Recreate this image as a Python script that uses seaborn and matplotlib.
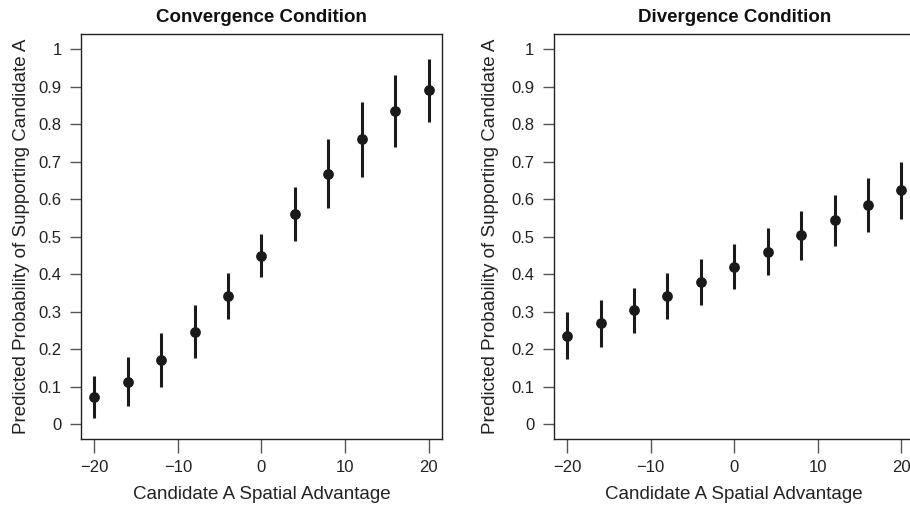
import numpy as np
import pandas as pd
import matplotlib
matplotlib.use("Agg")
import matplotlib.pyplot as plt
import seaborn as sns

advantage = [-20, -16, -12, -8, -4, 0, 4, 8, 12, 16, 20]

conv_est = [0.073, 0.113, 0.170, 0.246, 0.341, 0.449, 0.561, 0.667, 0.761, 0.834, 0.890]
conv_lo = [0.016, 0.047, 0.099, 0.176, 0.281, 0.392, 0.489, 0.575, 0.660, 0.738, 0.806]
conv_hi = [0.129, 0.179, 0.244, 0.317, 0.402, 0.507, 0.633, 0.760, 0.860, 0.930, 0.974]

div_est = [0.236, 0.269, 0.303, 0.341, 0.379, 0.419, 0.460, 0.503, 0.543, 0.584, 0.625]
div_lo = [0.173, 0.206, 0.243, 0.279, 0.317, 0.359, 0.397, 0.438, 0.474, 0.512, 0.548]
div_hi = [0.298, 0.332, 0.364, 0.402, 0.439, 0.480, 0.523, 0.567, 0.612, 0.657, 0.700]

titles = ["Convergence Condition", "Divergence Condition"]
xticks = [-20, -10, 0, 10, 20]
xticklabels = ["\u221220", "\u221210", "0", "10", "20"]
yticks = [0, 0.1, 0.2, 0.3, 0.4, 0.5, 0.6, 0.7, 0.8, 0.9, 1.0]
yticklabels = ["0", "0.1", "0.2", "0.3", "0.4", "0.5", "0.6", "0.7", "0.8", "0.9", "1"]
xlabel = "Candidate A Spatial Advantage"
ylabel = "Predicted Probability of Supporting Candidate A"

sns.set_theme(style="white")
plt.rcParams["font.family"] = ["Liberation Sans", "DejaVu Sans"]

fig = plt.figure(figsize=(9.10, 5.09), dpi=100)
ax1 = fig.add_axes([0.089, 0.1375, 0.3967, 0.7957])
ax2 = fig.add_axes([0.6085, 0.1375, 0.3967, 0.7957])

col = "#1a1a1a"
for i, (ax, title, est, lo, hi) in enumerate([(ax1, titles[0], conv_est, conv_lo, conv_hi),
                                              (ax2, titles[1], div_est, div_lo, div_hi)]):
    df = pd.DataFrame({"x": advantage, "y": est, "lo": lo, "hi": hi})
    ax.vlines(df["x"], df["lo"], df["hi"], color=col, linewidth=2.2, zorder=2)
    sns.scatterplot(data=df, x="x", y="y", ax=ax, color=col, s=60,
                    edgecolor=col, linewidth=0, zorder=3)
    ax.set_xlim(-21.6, 21.6)
    ax.set_ylim(-0.04, 1.04)
    ax.set_xticks(xticks)
    ax.set_xticklabels(xticklabels)
    ax.set_yticks(yticks)
    ax.set_yticklabels(yticklabels)
    ax.tick_params(axis="both", which="both", direction="out", length=8,
                   width=1.0, color="#555555", labelsize=12, labelcolor="#222222",
                   left=True, bottom=True, pad=6)
    ax.tick_params(axis="x", length=10, pad=5)
    for s in ax.spines.values():
        s.set_color("#222222")
        s.set_linewidth(1.0)
        s.set_visible(True)
    ax.set_xlabel(xlabel, fontsize=13.5, color="#222222", labelpad=8)
    ax.set_ylabel(ylabel, fontsize=13.5, color="#222222", labelpad=6 if i == 0 else 9)
    ax.set_title(title, fontsize=13.5, fontweight="bold", color="#111111", pad=9)
    ax.grid(False)

fig.savefig("out.png", dpi=100, facecolor="white")
